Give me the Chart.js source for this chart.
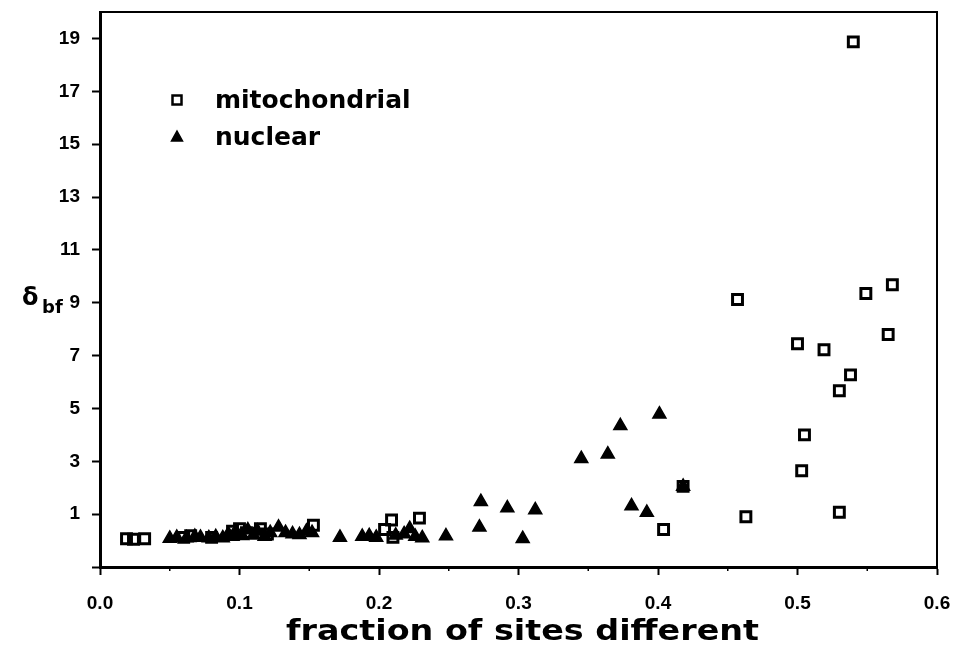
<!DOCTYPE html>
<html><head><meta charset="utf-8">
<script src="https://cdn.jsdelivr.net/npm/chart.js@4.4.1/dist/chart.umd.min.js"></script>
<style>html,body{margin:0;padding:0;background:#fff}</style>
</head><body>
<canvas id="c" width="958" height="655"></canvas>
<script>
// ---- data ----
const seriesLabels = ['mitochondrial', 'nuclear'];
const mitoX = [0.019,0.024,0.032,0.060,0.065,0.080,0.095,0.100,0.105,0.115,0.120,0.153,0.204,0.209,0.210,0.229,0.404,0.418,0.457,0.463,0.500,0.503,0.505,0.519,0.530,0.530,0.538,0.540,0.549,0.565,0.568];
const mitoY = [0.07,0.05,0.07,0.12,0.18,0.12,0.35,0.45,0.30,0.45,0.25,0.58,0.42,0.78,0.12,0.85,0.42,2.05,9.12,0.90,7.45,2.64,4.00,7.22,5.67,1.07,6.27,18.87,9.35,7.80,9.68];
const nucX = [0.050,0.055,0.062,0.068,0.072,0.078,0.083,0.088,0.092,0.095,0.098,0.102,0.106,0.110,0.113,0.118,0.122,0.128,0.133,0.138,0.143,0.148,0.152,0.172,0.188,0.193,0.198,0.212,0.218,0.222,0.226,0.231,0.248,0.272,0.273,0.292,0.303,0.312,0.345,0.364,0.373,0.381,0.392,0.401,0.418];
const nucY = [0.08,0.12,0.10,0.15,0.12,0.10,0.14,0.10,0.25,0.15,0.30,0.18,0.40,0.20,0.35,0.15,0.30,0.50,0.30,0.25,0.22,0.35,0.30,0.12,0.15,0.18,0.12,0.20,0.25,0.45,0.15,0.10,0.17,0.50,1.47,1.23,0.07,1.16,3.10,3.27,4.34,1.31,1.06,4.78,2.05];
const xTicks = [0, 0.1, 0.2, 0.3, 0.4, 0.5, 0.6];
const xMinorTicks = [0.05, 0.15, 0.25, 0.35, 0.45, 0.55];
const yTicks = [-1, 1, 3, 5, 7, 9, 11, 13, 15, 17, 19];
const xTitle = 'fraction of sites different';
const yTitleMain = 'δ';
const yTitleSub = 'bf';

const FONT = "'DejaVu Sans', sans-serif";
const TICK_FONT = "'Liberation Sans', Arial, sans-serif";
const toPts = (xs, ys) => xs.map((x, i) => ({x, y: ys[i]}));

const framePlugin = {
  id: 'frame',
  afterDatasetsDraw(chart) {
    const {ctx, chartArea: a} = chart;
    ctx.save();
    ctx.strokeStyle = '#000';
    ctx.lineWidth = 2;
    ctx.beginPath();
    ctx.moveTo(a.left, a.top); ctx.lineTo(a.right, a.top); ctx.lineTo(a.right, a.bottom);
    ctx.stroke();
    // minor x ticks
    const xs = chart.scales.x;
    ctx.lineWidth = 1.5;
    xMinorTicks.forEach(v => {
      const px = xs.getPixelForValue(v);
      ctx.beginPath(); ctx.moveTo(px, a.bottom); ctx.lineTo(px, a.bottom + 4); ctx.stroke();
    });
    ctx.fillStyle = '#000';
    // x title (slightly widened)
    ctx.save();
    ctx.textAlign = 'center';
    ctx.textBaseline = 'alphabetic';
    ctx.font = 'bold 29px ' + FONT;
    ctx.translate((a.left + a.right) / 2 + 4, 640);
    ctx.scale(1.15, 1);
    ctx.fillText(xTitle, 0, 0);
    ctx.restore();
    // y title
    ctx.textAlign = 'left';
    ctx.textBaseline = 'alphabetic';
    ctx.font = 'bold 24px ' + FONT;
    ctx.fillText(yTitleMain, 22, 305);
    ctx.font = 'bold 18px ' + FONT;
    ctx.fillText(yTitleSub, 42, 313);
    // legend
    const lx = a.left + 77, ly1 = a.top + 88, ly2 = a.top + 125;
    ctx.lineWidth = 2.5;
    ctx.strokeRect(lx - 4.5, ly1 - 4.5, 9, 9);
    ctx.beginPath();
    ctx.moveTo(lx, ly2 - 6); ctx.lineTo(lx + 5.5, ly2 + 4); ctx.lineTo(lx - 5.5, ly2 + 4); ctx.closePath();
    ctx.lineWidth = 1.5;
    ctx.fill(); ctx.stroke();
    ctx.font = 'bold 25px ' + FONT;
    ctx.textBaseline = 'middle';
    ctx.fillText(seriesLabels[0], a.left + 115, ly1 + 1);
    ctx.fillText(seriesLabels[1], a.left + 115, ly2 + 1);
    ctx.restore();
  }
};

new Chart(document.getElementById('c'), {
  type: 'scatter',
  data: {
    datasets: [
      {label: seriesLabels[0], data: toPts(mitoX, mitoY), pointStyle: 'rect', pointRadius: 7,
       borderColor: '#000', backgroundColor: 'rgba(0,0,0,0)', borderWidth: 3},
      {label: seriesLabels[1], data: toPts(nucX, nucY), pointStyle: 'triangle', pointRadius: 7.5,
       borderColor: '#000', backgroundColor: '#000', borderWidth: 1.5}
    ]
  },
  options: {
    responsive: false,
    animation: false,
    devicePixelRatio: 1,
    layout: {padding: {left: 0, right: 21, top: 12, bottom: 0}},
    plugins: {legend: {display: false}, tooltip: {enabled: false}},
    scales: {
      x: {
        type: 'linear', min: 0, max: 0.6,
        afterBuildTicks: s => { s.ticks = xTicks.map(v => ({value: v})); },
        afterFit: s => { s.height = 88; s.paddingLeft = 0; s.paddingRight = 0; },
        grid: {drawOnChartArea: false, tickLength: 8, tickWidth: 2, color: '#000'},
        border: {display: true, color: '#000', width: 3},
        ticks: {color: '#000', padding: 17, maxRotation: 0, font: {family: TICK_FONT, size: 19, weight: 'bold'},
                callback: v => v.toFixed(1)},
        title: {display: false}
      },
      y: {
        type: 'linear', min: -1, max: 20,
        afterBuildTicks: s => { s.ticks = yTicks.map(v => ({value: v})); },
        afterFit: s => { s.width = 100; s.paddingTop = 0; s.paddingBottom = 0; },
        grid: {drawOnChartArea: false, tickLength: 8, tickWidth: 2, color: '#000'},
        border: {display: true, color: '#000', width: 3},
        ticks: {color: '#000', padding: 12, font: {family: TICK_FONT, size: 19, weight: 'bold'},
                callback: v => (v < 0 ? '' : String(v))}
      }
    }
  },
  plugins: [framePlugin]
});
</script>
</body></html>
